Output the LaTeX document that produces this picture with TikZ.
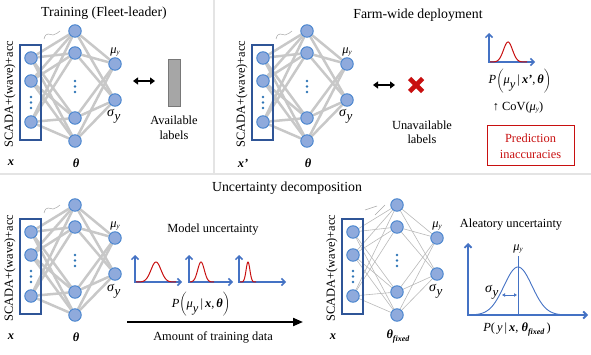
\documentclass[tikz,border=0pt]{standalone}
\usepackage{fontspec}
\setmainfont{Liberation Serif}
\usetikzlibrary{arrows.meta}
\pgfdeclarelayer{bg}
\pgfsetlayers{bg,main}
\definecolor{nfill}{RGB}{143,170,220}
\definecolor{nedge}{RGB}{68,130,205}
\definecolor{boxc}{RGB}{47,85,151}
\definecolor{axc}{RGB}{68,114,196}
\definecolor{dotc}{RGB}{46,117,182}
\definecolor{redc}{RGB}{200,16,16}
\definecolor{linkc}{RGB}{200,200,200}
\definecolor{thinc}{RGB}{185,185,185}
\definecolor{sepc}{RGB}{228,228,228}
\definecolor{labgray}{RGB}{166,166,166}
\definecolor{labedge}{RGB}{120,120,120}

\newcommand\muy{\textit{μ}\raisebox{-1pt}{\fontsize{7}{7}\selectfont\textit{y}}}
\newcommand\sigy{{\fontsize{14}{14}\selectfont\textit{σ}}\raisebox{-4pt}{\fontsize{13}{13}\selectfont\textit{y}}}
\newcommand\bx{\textbf{\textit{x}}}
\newcommand\bth{\textbf{\textit{θ}}}

\newcommand\drawnet[7]{%
\begin{scope}[shift={(#2,#3)}]
 \node[inbox] (#1box) at (30.5,92.5) {};
 \node[neuron] (#1i1) at (31,58) {};
 \node[neuron] (#1i2) at (31,81) {};
 \node[neuron] (#1i3) at (31,122) {};
 \node[vdot] (#1ia) at (31,97) {};
 \node[vdot] (#1ib) at (31,102.5) {};
 \node[vdot] (#1ic) at (31,108) {};
 \node[neuron] (#1h1) at (75,31) {};
 \node[neuron] (#1h2) at (75,53) {};
 \node[neuron] (#1h3) at (75,118) {};
 \node[neuron] (#1h4) at (75,141) {};
 \node[vdot] (#1ha) at (75,81) {};
 \node[vdot] (#1hb) at (75,86.5) {};
 \node[vdot] (#1hc) at (75,92) {};
 \node[neuron] (#1o1) at (115,64) {};
 \node[neuron] (#1o2) at (115,100) {};
 \begin{pgfonlayer}{bg}
  \foreach \a in {1,2,3}{\foreach \b in {1,2,3,4}{\draw[draw=#5,line width=#4] (#1i\a) -- (#1h\b);}}
  \foreach \b in {1,2,3,4}{\foreach \c in {1,2}{\draw[draw=#5,line width=#4] (#1h\b) -- (#1o\c);}}
 \end{pgfonlayer}
 \node[rotate=90] (#1lab) at (10,94) {SCADA+(wave)+acc};
 \node (#1mu) at (115,52) {\muy};
 \node[anchor=base west] (#1sig) at (107,117) {\sigy};
 \node (#1x) at (11,163) {#6};
 \node (#1th) at (76,163) {#7};
\end{scope}}

\begin{document}
\begin{tikzpicture}[x=1pt,y=-1pt,
 every node/.style={font=\fontsize{12.4}{14}\selectfont,inner sep=0pt},
 neuron/.style={circle,minimum size=12.5pt,fill=nfill,draw=nedge,line width=0.9pt},
 inbox/.style={rectangle,minimum width=21pt,minimum height=95pt,draw=boxc,line width=1.5pt},
 vdot/.style={circle,minimum size=2.8pt,fill=dotc},
 axis/.style={draw=axc,line width=1.5pt,{Straight Barb[length=3.5pt,width=7pt]}-{Straight Barb[length=3.5pt,width=7pt]}},
 gauss/.style={draw=redc,line width=1pt},
 title/.style={font=\fontsize{13.8}{16}\selectfont},
 dblarrow/.style={line width=2.2pt,{Triangle[length=5pt,width=7pt]}-{Triangle[length=5pt,width=7pt]}},
 sep/.style={draw=sepc,line width=1.5pt},
 squig/.style={draw=gray!70,line width=0.5pt}]
\useasboundingbox (0,0) rectangle (591,355);

% separators
\coordinate (s1) at (214,0); \coordinate (s2) at (214,173);
\coordinate (s3) at (0,174.5); \coordinate (s4) at (591,174.5);
\draw[sep] (s1) -- (s2);
\draw[sep,line width=2pt] (s3) -- (s4);

% titles
\node[title] (t1) at (104,13) {Training (Fleet-leader)};
\node[title] (t2) at (418,15) {Farm-wide deployment};
\node[title] (t3) at (287,188) {Uncertainty decomposition};

% networks
\drawnet{a}{0}{0}{2.5pt}{linkc}{\bx}{\bth}
\drawnet{b}{232}{0}{2.5pt}{linkc}{\textbf{\textit{x'}}}{\bth}
\drawnet{c}{0}{174}{2.5pt}{linkc}{\bx}{\bth}
\drawnet{d}{322}{174}{0.6pt}{thinc}{\bx}{\bth\raisebox{-3pt}{\fontsize{8}{8}\selectfont\textbf{\textit{fixed}}}}

% small squiggles
\foreach \dx/\dy in {0/0,232/0,0/174}{
 \begin{scope}[shift={(\dx,\dy)}]
 \draw[squig] (44,39) .. controls (46,31) and (50,35) .. (53,35) .. controls (56,35) and (58,32) .. (60,31);
 \end{scope}}
\begin{scope}[shift={(322,174)}]
 \draw[squig] (43,36) -- (55,32);
 \draw[squig] (53,41) -- (63,31);
\end{scope}

% top-left: labels
\coordinate (da1) at (133,81); \coordinate (da2) at (155,81);
\draw[dblarrow] (da1) -- (da2);
\node[rectangle,minimum width=12pt,minimum height=47pt,fill=labgray,draw=labedge,line width=1pt] (lab) at (174,83.5) {};
\node[align=center,font=\fontsize{12.4}{15}\selectfont] (avl) at (174,127.5) {Available\\labels};

% top-right
\coordinate (db1) at (373,85); \coordinate (db2) at (395,85);
\draw[dblarrow] (db1) -- (db2);
\coordinate (xa1) at (409.5,78.5); \coordinate (xa2) at (422.5,91.5);
\coordinate (xa3) at (409.5,91.5); \coordinate (xa4) at (422.5,78.5);
\draw[redc,line width=4.6pt] (xa1) -- (xa2);
\draw[redc,line width=4.6pt] (xa3) -- (xa4);
\node[align=center,font=\fontsize{12.4}{14}\selectfont] (unl) at (422,132) {Unavailable\\labels};

\coordinate (pt0) at (489,62); \coordinate (pt1) at (489,33); \coordinate (pt2) at (535,62);
\draw[axis] (pt1) -- (pt0) -- (pt2);
\draw[gauss] plot[domain=490:527,samples=60] (\x,{62-20*exp(-((\x-508)^2)/(2*4.5^2))});
\node (pf1) at (520,81) {\textit{P}$\left(\hbox{\rule[-8pt]{0pt}{20pt}\textit{μ}\raisebox{-5pt}{\textit{y}}\,|\,\textbf{\textit{x'}},\,\bth}\right)$};
\node (cov) at (518,108) {↑ CoV(\muy)};
\node[draw=redc,line width=1pt,minimum width=87pt,minimum height=40pt] (pred) at (530.5,146) {};
\node[align=center,text=redc,font=\fontsize{12.4}{16}\selectfont] (predt) at (530.5,146) {Prediction\\inaccuracies};

% bottom: model uncertainty
\node (mu) at (213,230) {Model uncertainty};
\coordinate (q1o) at (135,282); \coordinate (q1t) at (135,255); \coordinate (q1e) at (182,282);
\coordinate (q2o) at (189,282); \coordinate (q2t) at (189,255); \coordinate (q2e) at (233,282);
\coordinate (q3o) at (239,282); \coordinate (q3t) at (239,255); \coordinate (q3e) at (286,282);
\draw[axis] (q1t) -- (q1o) -- (q1e);
\draw[axis] (q2t) -- (q2o) -- (q2e);
\draw[axis] (q3t) -- (q3o) -- (q3e);
\draw[gauss] plot[domain=136:176,samples=60] (\x,{282-20*exp(-((\x-156)^2)/(2*5^2))});
\draw[gauss] plot[domain=190:214,samples=60] (\x,{282-20*exp(-((\x-201)^2)/(2*3.3^2))});
\draw[gauss] plot[domain=240:256,samples=60] (\x,{282-20*exp(-((\x-248)^2)/(2*1.9^2))});
\node (pf2) at (201,304) {\textit{P}$\left(\hbox{\rule[-8pt]{0pt}{20pt}\textit{μ}\raisebox{-5pt}{\textit{y}}\,|\,\bx,\,\bth}\right)$};
\coordinate (ba1) at (127,322); \coordinate (ba2) at (303,322);
\draw[line width=2pt,-{Triangle[length=10pt,width=8pt]}] (ba1) -- (ba2);
\node (amt) at (213,337) {Amount of training data};

% bottom right: aleatory
\node (ale) at (511,225) {Aleatory uncertainty};
\coordinate (r0) at (468,315); \coordinate (r1) at (468,243); \coordinate (r2) at (588,315);
\draw[axis,line width=1.8pt] (r1) -- (r0) -- (r2);
\draw[axc,line width=0.9pt] plot[domain=471:565,samples=90] (\x,{315-48*exp(-((\x-518)^2)/(2*14^2))});
\coordinate (m1) at (518,256); \coordinate (m2) at (518,315);
\draw[axc,line width=0.9pt] (m1) -- (m2);
\node (amu) at (518,249) {\muy};
\coordinate (sa1) at (502,295); \coordinate (sa2) at (517,295);
\draw[axc,line width=0.9pt,{Latex[length=3pt,width=4pt]}-{Latex[length=3pt,width=4pt]}] (sa1) -- (sa2);
\node[anchor=base west] (asig) at (485,292) {\sigy};
\node (pf3) at (517,330) {\textit{P}(\,\textit{y}\,|\,\bx, \bth\raisebox{-3pt}{\fontsize{8}{8}\selectfont\textbf{\textit{fixed}}}\,)};
\end{tikzpicture}
\end{document}
